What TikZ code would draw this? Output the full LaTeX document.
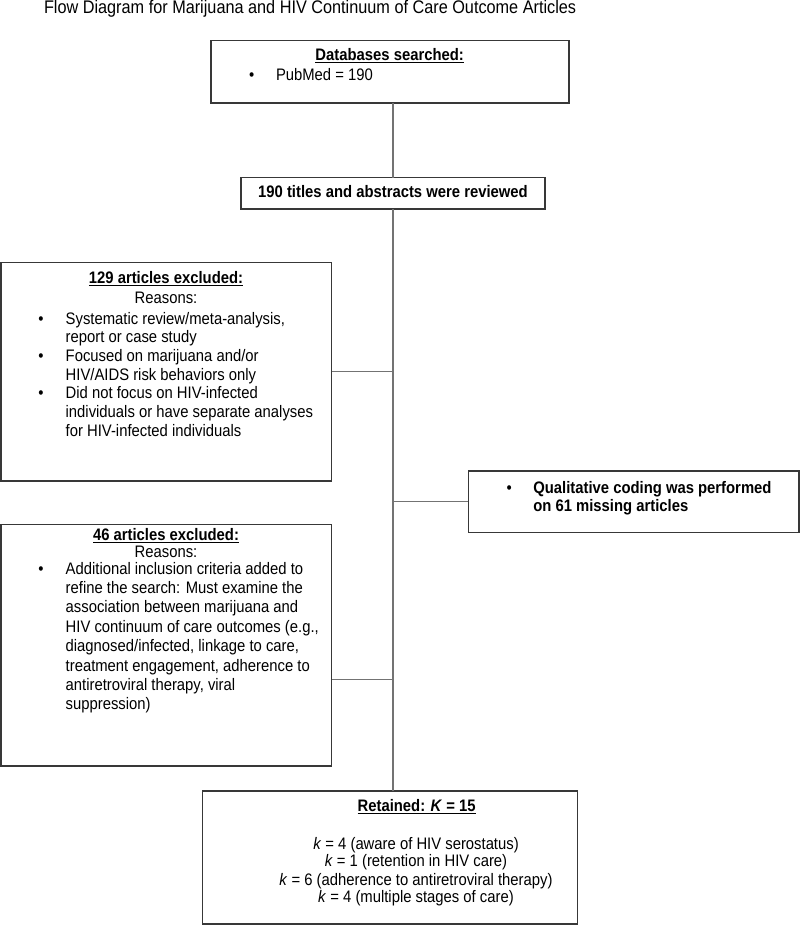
\documentclass[tikz,border=0pt]{standalone}
\usepackage{fontspec}
\setmainfont{Liberation Sans}[FakeStretch=0.89]
\newcommand{\ul}[1]{\underline{#1}}
\begin{document}
\begin{tikzpicture}[x=0.75pt,y=-0.75pt,
  box/.style={draw=black!78, line width=0.9pt, rectangle, inner sep=0, outer sep=0},
  conn/.style={draw=black!55, line width=0.9pt},
  tx/.style={inner sep=0, outer sep=0, font=\fontsize{12.5}{14}\selectfont},
  bf/.style={tx, font=\fontsize{12.5}{14}\selectfont\bfseries},
  bul/.style={tx, anchor=base},
]
\useasboundingbox (0,0) rectangle (800,926);

% boxes
\node[box, minimum width={358*0.75pt}, minimum height={62.3*0.75pt}] (db) at (390,71.85) {};
\node[box, minimum width={304*0.75pt}, minimum height={31.3*0.75pt}] (tt) at (393,193.35) {};
\node[box, minimum width={330.7*0.75pt}, minimum height={218.7*0.75pt}] (ex1) at (166.35,371.65) {};
\node[box, minimum width={330.7*0.75pt}, minimum height={241.5*0.75pt}] (ex2) at (166.35,645.25) {};
\node[box, minimum width={330.7*0.75pt}, minimum height={61.5*0.75pt}] (ql) at (633.65,501.75) {};
\node[box, minimum width={375*0.75pt}, minimum height={133*0.75pt}] (rt) at (389.8,857.5) {};

% connectors
\draw[conn] (db.south -| tt.north) -- (tt.north);
\draw[conn] (tt.south) -- (tt.south |- rt.north);
\draw[conn] (ex1.east) -- (ex1.east -| tt.south);
\draw[conn] (ql.west) -- (ql.west -| tt.south);
\coordinate (e2) at ([yshift={-34.45*0.75pt}]ex2.east);
\draw[conn] (e2) -- (e2 -| tt.south);

% heading
\node[tx, anchor=base west, font=\fontsize{13.7}{16}\selectfont] (head) at (44,13) {Flow Diagram for Marijuana and HIV Continuum of Care Outcome Articles};

% databases
\node[bf, anchor=base] (dbt) at (389.7,60.3) {\ul{Databases searched:}};
\node[bul] (dbb) at (251.7,80.7) {•};
\node[tx, anchor=base west] (dbl) at (276,80.7) {PubMed = 190};

% titles reviewed
\node[bf, anchor=base] (ttt) at (393,197.5) {190 titles and abstracts were reviewed};

% excluded 129
\node[bf, anchor=base] (e1t) at (166,283.3) {\ul{129 articles excluded:}};
\node[tx, anchor=base] (e1r) at (166,303.3) {Reasons:};
\node[bul] (e1b1) at (41,324) {•};
\node[bul] (e1b2) at (41,361.3) {•};
\node[bul] (e1b3) at (41,398.7) {•};
\node[tx, anchor=base west] (e1l) at (65.7,324) {\parbox[t]{250pt}{\fontsize{12.5}{14}\selectfont
Systematic review/meta-analysis,\\
report or case study\\
Focused on marijuana and/or\\
HIV/AIDS risk behaviors only\\
Did not focus on HIV-infected\\
individuals or have separate analyses\\
for HIV-infected individuals}};

% excluded 46
\node[bf, anchor=base] (e2t) at (166,540.2) {\ul{46 articles excluded:}};
\node[tx, anchor=base] (e2r) at (166,557.2) {Reasons:};
\node[bul] (e2b1) at (41,574) {•};
\node[tx, anchor=base west] (e2l) at (65.7,574) {\parbox[t]{250pt}{\fontsize{12.5}{14.57}\selectfont
Additional inclusion criteria added to\\
refine the search: Must examine the\\
association between marijuana and\\
HIV continuum of care outcomes (e.g.,\\
diagnosed/infected, linkage to care,\\
treatment engagement, adherence to\\
antiretroviral therapy, viral\\
suppression)}};

% qualitative
\node[bul] (qb) at (509.3,493) {•};
\node[tx, anchor=base west] (ql1) at (533.3,493) {\parbox[t]{250pt}{\fontsize{12.5}{14}\selectfont\bfseries
Qualitative coding was performed\\
on 61 missing articles}};

% retained
\node[bf, anchor=base] (rtt) at (416.7,811.7) {\ul{Retained: \textit{K} = 15}};
\node[tx, anchor=base] (rt1) at (416,849) {\textit{k} = 4 (aware of HIV serostatus)};
\node[tx, anchor=base] (rt2) at (416,866.7) {\textit{k} = 1 (retention in HIV care)};
\node[tx, anchor=base] (rt3) at (416,885) {\textit{k} = 6 (adherence to antiretroviral therapy)};
\node[tx, anchor=base] (rt4) at (416,902.7) {\textit{k} = 4 (multiple stages of care)};
\end{tikzpicture}
\end{document}
